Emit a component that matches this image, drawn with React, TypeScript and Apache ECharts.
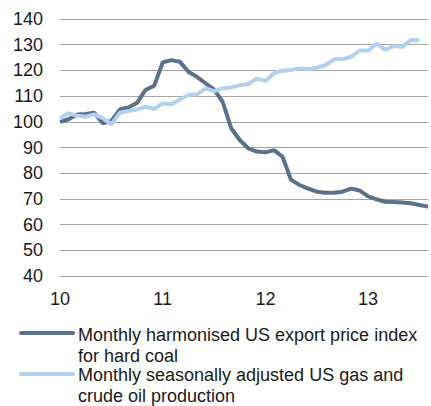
import React, { useEffect, useRef } from "react";
import * as echarts from "echarts";

const months: string[] = [];
for (let y = 2010; y <= 2013; y++) {
  for (let m = 1; m <= 12; m++) {
    if (y === 2013 && m > 8) break;
    months.push(`${y}-${String(m).padStart(2, "0")}`);
  }
}

const coalPrice = [
  100, 101, 102.8, 103, 103.5, 99.4, 100.3, 104.8, 105.6, 107.4, 112.4, 114,
  123.1, 124, 123.4, 119.5, 117.5, 115, 112.6, 107.8, 97.5, 92.9, 89.7, 88.4,
  88.1, 89, 86.4, 77.4, 75.4, 74, 72.8, 72.4, 72.4, 72.8, 74, 73.3,
  71, 69.8, 68.9, 68.8, 68.6, 68.3, 67.6, 67,
];

const gasOil = [
  101.4, 103.3, 102.4, 102, 102.9, 101.4, 99, 103.5, 104.2, 104.8, 105.9, 105,
  107.2, 106.8, 108.7, 110.4, 110.7, 113, 111.9, 113, 113.4, 114.2, 114.7, 116.9,
  115.9, 118.9, 119.9, 120.2, 120.8, 120.5, 121.1, 122, 124.3, 124.4, 125.3, 127.7,
  127.7, 130.5, 128, 129.5, 129.2, 131.8, 131.7,
];

const seriesNames = [
  "Monthly harmonised US export price index\nfor hard coal",
  "Monthly seasonally adjusted US gas and\ncrude oil production",
];
const colors = ["#5b7189", "#b2d0f0"];

export default function App() {
  const ref = useRef<HTMLDivElement>(null);
  useEffect(() => {
    if (!ref.current) return;
    document.body.style.margin = "0";
    const chart = echarts.init(ref.current, undefined, { renderer: "svg" });
    const font = "'Liberation Sans', Arial, sans-serif";
    chart.setOption({
      animation: false,
      backgroundColor: "#ffffff",
      grid: { left: 60, right: 3, top: 19, bottom: 130, containLabel: false },
      xAxis: {
        type: "category",
        data: months,
        boundaryGap: false,
        axisLine: { show: false },
        axisTick: { show: false },
        splitLine: { show: false },
        axisLabel: {
          interval: 11,
          margin: 14,
          fontSize: 18,
          fontFamily: font,
          color: "#1a1a1a",
          formatter: (v: string) => v.slice(2, 4),
        },
      },
      yAxis: {
        type: "value",
        min: 40,
        max: 140,
        interval: 10,
        axisLine: { show: false },
        axisTick: { show: false },
        splitLine: { lineStyle: { color: "#a6a6a6", width: 1 } },
        axisLabel: {
          margin: 17,
          fontSize: 18,
          fontFamily: font,
          color: "#1a1a1a",
        },
      },
      series: [
        {
          name: seriesNames[0],
          type: "line",
          data: coalPrice,
          showSymbol: false,
          symbol: "none",
          lineStyle: { color: colors[0], width: 4 },
          itemStyle: { color: colors[0] },
          z: 2,
        },
        {
          name: seriesNames[1],
          type: "line",
          data: gasOil,
          showSymbol: false,
          symbol: "none",
          lineStyle: { color: colors[1], width: 4 },
          itemStyle: { color: colors[1] },
          z: 3,
        },
      ],
      graphic: [
        {
          type: "line",
          shape: { x1: 21, y1: 333, x2: 73, y2: 333 },
          style: { stroke: colors[0], lineWidth: 4, lineCap: "round" },
        },
        {
          type: "text",
          x: 78,
          y: 325,
          style: {
            text: seriesNames[0],
            font: `18px ${font}`,
            fill: "#1a1a1a",
            lineHeight: 20.5,
            verticalAlign: "top",
          },
        },
        {
          type: "line",
          shape: { x1: 21, y1: 374, x2: 73, y2: 374 },
          style: { stroke: colors[1], lineWidth: 4, lineCap: "round" },
        },
        {
          type: "text",
          x: 78,
          y: 365,
          style: {
            text: seriesNames[1],
            font: `18px ${font}`,
            fill: "#1a1a1a",
            lineHeight: 20.5,
            verticalAlign: "top",
          },
        },
      ],
    });
    return () => chart.dispose();
  }, []);
  return <div ref={ref} style={{ width: 431, height: 406 }} />;
}
